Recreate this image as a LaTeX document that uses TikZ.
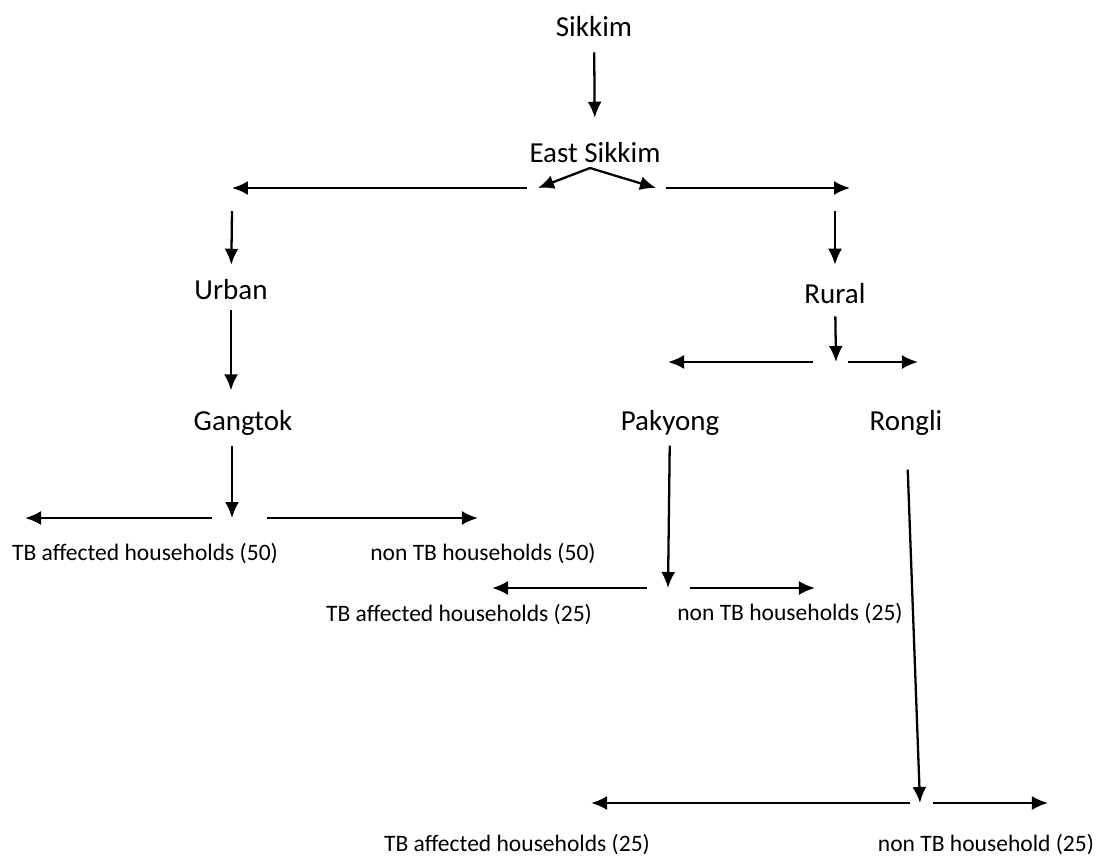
\documentclass[tikz,border=0pt]{standalone}
\usepackage{fontspec}
\setmainfont{Carlito}
\usetikzlibrary{arrows.meta}

\begin{document}
\begin{tikzpicture}[
  x=0.02cm, y=-0.02cm,
  place/.style={font=\fontsize{16.5}{19}\selectfont, inner sep=1pt},
  leaf/.style={font=\fontsize{13.4}{16}\selectfont, inner sep=1pt},
  arrow/.style={-{Latex[length=3.2mm,width=2.8mm]}, line width=1.3pt}
]
\useasboundingbox (0,0) rectangle (1099,859);

% places
\node[place] (sikkim) at (594,27) {Sikkim};
\node[place] (east) at (595,153) {East Sikkim};
\node[place] (urban) at (231,290) {Urban};
\node[place] (rural) at (835,294) {Rural};
\node[place] (gangtok) at (243,423) {Gangtok};
\node[place] (pakyong) at (670,423) {Pakyong};
\node[place] (rongli) at (906,423) {Rongli};

% households
\node[leaf] (tbgang) at (145,554) {TB affected households (50)};
\node[leaf] (nongang) at (483,554) {non TB households (50)};
\node[leaf] (tbpak) at (459,615) {TB affected households (25)};
\node[leaf] (nonpak) at (790,614) {non TB households (25)};
\node[leaf] (tbrong) at (517,845) {TB affected households (25)};
\node[leaf] (nonrong) at (986,845) {non TB household (25)};

% branch points
\coordinate (eastfork) at (590,168);
\coordinate (eastl) at (538,188);
\coordinate (eastr) at (656,188);
\coordinate (eastlstart) at (527,188);
\coordinate (eastlend) at (232,188);
\coordinate (eastrstart) at (666,188);
\coordinate (eastrend) at (850,188);
\coordinate (urbantop) at (232,211);
\coordinate (ruraltop) at (835,211);
\coordinate (gangsplit) at (232,518);
\coordinate (ruralsplit) at (836,362);
\coordinate (paksplit) at (668,588);
\coordinate (rongsplit) at (920,803);

\draw[arrow, shorten <=2.6mm, shorten >=4.6mm] (sikkim) -- (east);
\draw[arrow] (eastfork) -- (eastl);
\draw[arrow] (eastfork) -- (eastr);
\draw[arrow] (eastlstart) -- (eastlend);
\draw[arrow] (eastrstart) -- (eastrend);
\draw[arrow, shorten >=2.6mm] (urbantop) -- (urban);
\draw[arrow, shorten >=3.4mm] (ruraltop) -- (rural);
\draw[arrow, shorten <=1.6mm, shorten >=3.6mm] (urban.south) -- (urban.south |- gangtok.north);
\draw[arrow, shorten <=1.6mm] (gangtok.south -| gangsplit) -- (gangsplit);
\draw[arrow, shorten <=2.0mm] (rural) -- (ruralsplit);
\draw[arrow, shorten <=1.6mm] (pakyong) -- (paksplit);
\draw[arrow, shorten <=6.4mm] (rongli) -- (rongsplit);

% splits
\draw[arrow] ([xshift=-4mm]gangsplit) -- ([xshift=-41.4mm]gangsplit);
\draw[arrow] ([xshift=7mm]gangsplit) -- ([xshift=49.2mm]gangsplit);
\draw[arrow] ([xshift=-4.6mm]ruralsplit) -- ([xshift=-33.6mm]ruralsplit);
\draw[arrow] ([xshift=2.4mm]ruralsplit) -- ([xshift=16.4mm]ruralsplit);
\draw[arrow] ([xshift=-4.2mm]paksplit) -- ([xshift=-35.2mm]paksplit);
\draw[arrow] ([xshift=4.4mm]paksplit) -- ([xshift=29.4mm]paksplit);
\draw[arrow] ([xshift=-2mm]rongsplit) -- ([xshift=-65.8mm]rongsplit);
\draw[arrow] ([xshift=2.6mm]rongsplit) -- ([xshift=25.6mm]rongsplit);
\end{tikzpicture}
\end{document}
